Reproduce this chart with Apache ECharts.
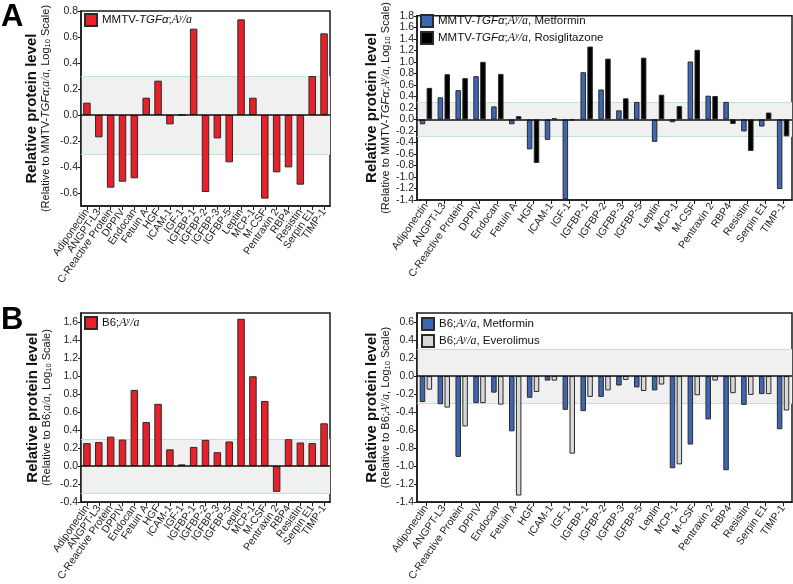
<!DOCTYPE html>
<html>
<head>
<meta charset="utf-8">
<script src="https://cdn.jsdelivr.net/npm/echarts@6/dist/echarts.min.js"></script>
<style>html,body{margin:0;padding:0;background:#fff}#c{width:793px;height:584px}</style>
</head>
<body>
<div id="c"></div>
<script>
const categories = ['Adiponectin','ANGPT-L3','C-Reactive Protein','DPPIV','Endocan','Fetuin A','HGF','ICAM-1','IGF-1','IGFBP-1','IGFBP-2','IGFBP-3','IGFBP-5','Leptin','MCP-1','M-CSF','Pentraxin 2','RBP4','Resistin','Serpin E1','TIMP-1'];

const tgfAya = [0.095,-0.172,-0.559,-0.513,-0.487,0.133,0.264,-0.072,0,0.664,-0.592,-0.18,-0.364,0.736,0.133,-0.643,-0.441,-0.403,-0.536,0.30,0.628];
const tgfMetformin = [-0.085,0.384,0.508,0.751,0.226,-0.085,-0.52,-0.356,-1.385,0.82,0.52,0.158,0.305,-0.39,-0.05,1.006,0.412,0.305,-0.209,-0.124,-1.21];
const tgfRosiglitazone = [0.548,0.785,0.717,1.0,0.79,0.056,-0.757,0.02,-0.015,1.266,1.056,0.367,1.073,0.429,0.232,1.209,0.407,-0.079,-0.548,0.119,-0.294];
const b6Aya = [0.256,0.267,0.328,0.295,0.847,0.49,0.692,0.187,0.02,0.213,0.292,0.155,0.274,1.636,0.998,0.724,-0.285,0.299,0.263,0.256,0.476];
const b6Metformin = [-0.288,-0.313,-0.897,-0.30,-0.184,-0.613,-0.241,-0.05,-0.375,-0.389,-0.231,-0.105,-0.126,-0.159,-1.023,-0.76,-0.481,-1.045,-0.32,-0.2,-0.59];
const b6Everolimus = [-0.151,-0.35,-0.559,-0.30,-0.317,-1.326,-0.177,-0.05,-0.861,-0.231,-0.159,-0.043,-0.166,-0.094,-0.98,-0.213,-0.05,-0.19,-0.209,-0.2,-0.382];

const ticksA1 = [-0.6,-0.4,-0.2,0,0.2,0.4,0.6,0.8];
const ticksA2 = [-1.4,-1.2,-1.0,-0.8,-0.6,-0.4,-0.2,0,0.2,0.4,0.6,0.8,1.0,1.2,1.4,1.6,1.8];
const ticksB1 = [-0.4,-0.2,0,0.2,0.4,0.6,0.8,1.0,1.2,1.4,1.6];
const ticksB2 = [-1.4,-1.2,-1.0,-0.8,-0.6,-0.4,-0.2,0,0.2,0.4,0.6];
const bandLimit = 0.3;

const FONT = 'Liberation Sans, Arial, sans-serif';
const SERIF = 'Liberation Serif, Times New Roman, serif';
const richBase = {
  b: {fontFamily: FONT, fontWeight: 'bold', fontSize: 15, lineHeight: 15, color: '#111'},
  n: {fontFamily: FONT, fontSize: 11, lineHeight: 13, color: '#111'},
  i: {fontFamily: FONT, fontStyle: 'italic', fontSize: 11, lineHeight: 13, color: '#111'},
  s: {fontFamily: SERIF, fontStyle: 'italic', fontSize: 11.5, lineHeight: 13, color: '#111'},
  sup: {fontFamily: SERIF, fontStyle: 'italic', fontSize: 7.5, lineHeight: 13, verticalAlign: 'top', color: '#111'},
  sub: {fontFamily: FONT, fontSize: 7.5, lineHeight: 13, verticalAlign: 'bottom', color: '#111'}
};
const legendRich = {
  n: {fontFamily: FONT, fontSize: 11.5, color: '#111'},
  i: {fontFamily: FONT, fontStyle: 'italic', fontSize: 11.5, color: '#111'},
  s: {fontFamily: SERIF, fontStyle: 'italic', fontSize: 12, color: '#111'},
  sup: {fontFamily: SERIF, fontStyle: 'italic', fontSize: 8, verticalAlign: 'top', color: '#111'}
};
const AYA = '{s|A}{sup|y}{s|/a}';
const legendNames = {
  'tgfAya': '{n|MMTV-}{i|TGFα}{n|;}' + AYA,
  'tgfMet': '{n|MMTV-}{i|TGFα}{n|;}' + AYA + '{n|, Metformin}',
  'tgfRosi': '{n|MMTV-}{i|TGFα}{n|;}' + AYA + '{n|, Rosiglitazone}',
  'b6Aya': '{n|B6;}' + AYA,
  'b6Met': '{n|B6;}' + AYA + '{n|, Metformin}',
  'b6Eve': '{n|B6;}' + AYA + '{n|, Everolimus}'
};
const LOG = '{n|, Log}{sub|10}{n| Scale)}';
const yNames = [
  '{b|Relative protein level}\n{n|(Relative to MMTV-}{i|TGFα}{n|;}{s|a/a}' + LOG,
  '{b|Relative protein level}\n{n|(Relative to MMTV-}{i|TGFα}{n|;}' + AYA + LOG,
  '{b|Relative protein level}\n{n|(Relative to B6;}{s|a/a}' + LOG,
  '{b|Relative protein level}\n{n|(Relative to B6;}' + AYA + LOG
];

const grids = [
  {left: 81, top: 11, width: 249, height: 195},
  {left: 417, top: 11, width: 375, height: 189},
  {left: 81, top: 313, width: 249, height: 195},
  {left: 417, top: 313, width: 375, height: 195}
].map(g => Object.assign(g, {show: true, borderColor: '#1a1a1a', borderWidth: 1.5, backgroundColor: 'transparent'}));

const yRanges = [[-0.7, 0.8, ticksA1, 29], [-1.4, 1.8, ticksA2, 25], [-0.4, 1.7, ticksB1, 28], [-1.4, 0.7, ticksB2, 22]];

const yAxes = yRanges.map((r, i) => ({
  type: 'value', gridIndex: i, min: r[0], max: r[1],
  name: yNames[i], nameLocation: 'middle', nameRotate: 90, nameGap: r[3],
  nameTextStyle: {rich: richBase, align: 'center'},
  axisLine: {show: true, lineStyle: {color: '#1a1a1a', width: 1.5}},
  axisTick: {show: true, length: 3, lineStyle: {color: '#1a1a1a'}, customValues: r[2]},
  axisLabel: {customValues: r[2], fontFamily: FONT, fontSize: 10.5, color: '#222', margin: 3,
    formatter: v => (Math.abs(v) < 1e-9 ? 0 : v).toFixed(1)},
  splitLine: {show: false}
}));

const xAxes = [0,1,2,3].map(i => ({
  type: 'category', gridIndex: i, data: categories,
  axisLine: {show: true, onZero: false, lineStyle: {color: '#1a1a1a', width: 1.5}},
  axisTick: {show: true, alignWithLabel: true, length: 4, lineStyle: {color: '#1a1a1a'}},
  axisLabel: {interval: 0, rotate: 55, fontFamily: FONT, fontSize: 10.5, color: '#222', margin: 4}
}));

function bandSeries(i) {
  return [{
    type: 'line', xAxisIndex: i, yAxisIndex: i, data: categories.map(() => null), z: 0, silent: true,
    markArea: {silent: true, z: 0, itemStyle: {color: '#f0f0f0'}, data: [[{yAxis: -bandLimit}, {yAxis: bandLimit}]]},
    markLine: {silent: true, z: 1, symbol: 'none', label: {show: false}, lineStyle: {color: '#bfe3d4', width: 1, type: 'solid'},
      data: [{yAxis: -bandLimit}, {yAxis: bandLimit}]}
  }, {
    type: 'line', xAxisIndex: i, yAxisIndex: i, data: categories.map(() => null), z: 6, silent: true,
    markLine: {silent: true, z: 6, symbol: 'none', label: {show: false}, lineStyle: {color: '#111', width: 1.5, type: 'solid'},
      data: [{yAxis: 0}]}
  }];
}

const bar = (name, data, i, color, w, extra) => Object.assign({
  name, type: 'bar', data, xAxisIndex: i, yAxisIndex: i, z: 3, barWidth: w,
  itemStyle: {color, borderColor: '#2a2a2a', borderWidth: 1}
}, extra || {});

const series = [
  ...bandSeries(0), ...bandSeries(1), ...bandSeries(2), ...bandSeries(3),
  bar('tgfAya', tgfAya, 0, '#e8202a', 7.5),
  bar('tgfMet', tgfMetformin, 1, '#3f66b3', 5.5, {barGap: '25%'}),
  bar('tgfRosi', tgfRosiglitazone, 1, '#000000', 5.5, {barGap: '25%'}),
  bar('b6Aya', b6Aya, 2, '#e8202a', 7.5),
  bar('b6Met', b6Metformin, 3, '#3f66b3', 5.5, {barGap: '25%'}),
  bar('b6Eve', b6Everolimus, 3, '#d9d9d9', 5.5, {barGap: '25%'})
];

const legendBase = {
  orient: 'vertical', icon: 'rect', itemWidth: 12, itemHeight: 12, itemGap: 3, z: 8,
  formatter: n => legendNames[n], textStyle: {rich: legendRich, fontSize: 11.5, fontFamily: FONT}, padding: 0
};
const legends = [
  Object.assign({}, legendBase, {left: 84, top: 13, data: ['tgfAya']}),
  Object.assign({}, legendBase, {left: 420, top: 14, data: ['tgfMet', 'tgfRosi']}),
  Object.assign({}, legendBase, {left: 84, top: 316, data: ['b6Aya']}),
  Object.assign({}, legendBase, {left: 421, top: 317, data: ['b6Met', 'b6Eve']})
];

const chart = echarts.init(document.getElementById('c'), null, {renderer: 'canvas'});
chart.setOption({
  animation: false,
  backgroundColor: '#ffffff',
  grid: grids,
  xAxis: xAxes,
  yAxis: yAxes,
  legend: legends,
  series,
  graphic: [
    {type: 'text', left: 1, top: 2, style: {text: 'A', font: 'bold 31px Liberation Sans, Arial', fill: '#000'}},
    {type: 'text', left: 1, top: 305, style: {text: 'B', font: 'bold 31px Liberation Sans, Arial', fill: '#000'}}
  ]
});
</script>
</body>
</html>
